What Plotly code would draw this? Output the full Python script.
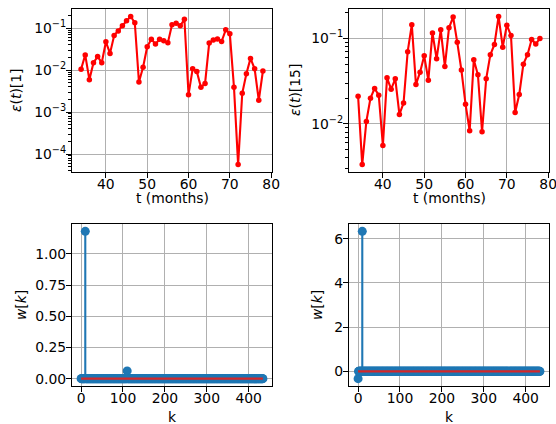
import plotly.graph_objects as go
import math

# ---------------- data ----------------
t_months = list(range(34, 79))
eps_1 = [0.0105, 0.023, 0.0059, 0.015, 0.021, 0.015, 0.047, 0.025, 0.067, 0.085,
         0.114, 0.149, 0.19, 0.134, 0.0052, 0.0117, 0.036, 0.054, 0.042, 0.054,
         0.050, 0.045, 0.12, 0.13, 0.114, 0.163, 0.0026, 0.0107, 0.0093, 0.0039,
         0.0048, 0.044, 0.052, 0.055, 0.048, 0.091, 0.073, 0.0039, 0.000056, 0.0028,
         0.0082, 0.019, 0.0107, 0.0019, 0.0095]
eps_15 = [0.0211, 0.00334, 0.0107, 0.020, 0.026, 0.0217, 0.0056, 0.0346, 0.0255, 0.0337,
          0.0129, 0.0175, 0.070, 0.145, 0.0289, 0.0403, 0.0626, 0.0325, 0.116, 0.0578,
          0.126, 0.047, 0.133, 0.178, 0.090, 0.0426, 0.017, 0.0083, 0.0562, 0.0375,
          0.0081, 0.0337, 0.0644, 0.085, 0.181, 0.079, 0.143, 0.108, 0.0136, 0.0221,
          0.050, 0.0644, 0.097, 0.086, 0.100]

n_weights = 435                     # k = 0 .. 434, all other weights ~0
w1_nonzero_k = [10, 110]
w1_nonzero_val = [1.18, 0.062]
w15_nonzero_k = [0, 10]
w15_nonzero_val = [-0.33, 6.33]

log_ticks_1 = [1e-4, 1e-3, 1e-2, 1e-1]
log_ticktext_1 = ["10<sup>−4</sup>", "10<sup>−3</sup>", "10<sup>−2</sup>", "10<sup>−1</sup>"]
log_ticks_15 = [1e-2, 1e-1]
log_ticktext_15 = ["10<sup>−2</sup>", "10<sup>−1</sup>"]

# ---------------- helpers ----------------
FONT = "DejaVu Sans"
FS = 13.9
RED = "#ff0000"
BLUE = "#1f77b4"
BASE = "#d62728"
GRID = "#b0b0b0"

def build_w(nz_k, nz_v):
    w = [0.0] * n_weights
    for kk, vv in zip(nz_k, nz_v):
        w[kk] = vv
    return w

w_1 = build_w(w1_nonzero_k, w1_nonzero_val)
w_15 = build_w(w15_nonzero_k, w15_nonzero_val)
k_idx = list(range(n_weights))

def lin_range(vals, m=0.05):
    lo, hi = min(vals), max(vals)
    d = hi - lo
    return [lo - m * d, hi + m * d]

def log_range(vals, m=0.05):
    lo, hi = math.log10(min(vals)), math.log10(max(vals))
    d = hi - lo
    return [lo - m * d, hi + m * d]

def minor_vals(rng):
    out = []
    for e in range(math.floor(rng[0]) - 1, math.ceil(rng[1]) + 1):
        for m in range(2, 10):
            out.append(m * 10 ** e)
    return out

fig = go.Figure()

W, H = 556, 424
doms = {
    "TL": ([72 / W, 272 / W], [1 - 172 / H, 1 - 9 / H]),
    "TR": ([349 / W, 549 / W], [1 - 172 / H, 1 - 9 / H]),
    "BL": ([72 / W, 272 / W], [1 - 386 / H, 1 - 224 / H]),
    "BR": ([349 / W, 549 / W], [1 - 386 / H, 1 - 224 / H]),
}
axes_ids = {"TL": ("x", "y"), "TR": ("x2", "y2"), "BL": ("x3", "y3"), "BR": ("x4", "y4")}

common_axis = dict(
    showline=True, linecolor="black", linewidth=1.1, mirror=True,
    ticks="outside", ticklen=5, tickwidth=1.1, tickcolor="black",
    showgrid=True, gridcolor=GRID, gridwidth=1.1, zeroline=False,
    automargin=False, ticklabeloverflow="allow",
    tickfont=dict(family=FONT, size=FS, color="black"),
)
x_std = dict(common_axis, ticklabelstandoff=-6)
y_std = dict(common_axis, ticklabelstandoff=-3)

# ---- top plots: error curves ----
for key, series, ticks, ticktext in (("TL", eps_1, log_ticks_1, log_ticktext_1),
                                     ("TR", eps_15, log_ticks_15, log_ticktext_15)):
    xa, ya = axes_ids[key]
    fig.add_trace(go.Scatter(
        x=t_months, y=series, mode="lines+markers", xaxis=xa, yaxis=ya,
        line=dict(color=RED, width=2.1), marker=dict(color=RED, size=5.5),
        showlegend=False, hoverinfo="x+y"))
    yr = log_range(series)
    fig.update_layout(**{
        ("xaxis" if xa == "x" else "xaxis" + xa[1:]): dict(
            x_std, domain=doms[key][0], anchor=ya, range=lin_range(t_months),
            tickmode="array", tickvals=[40, 50, 60, 70, 80]),
        ("yaxis" if ya == "y" else "yaxis" + ya[1:]): dict(
            y_std, domain=doms[key][1], anchor=xa, type="log", range=yr,
            tickmode="array", tickvals=ticks, ticktext=ticktext,
            minor=dict(ticks="outside", ticklen=3, tickwidth=0.8, tickcolor="black",
                       tickmode="array", tickvals=minor_vals(yr), showgrid=False)),
    })

# ---- bottom plots: stems ----
for key, w, yticks, yfmt in (("BL", w_1, [0, 0.25, 0.5, 0.75, 1.0], ".2f"),
                             ("BR", w_15, [0, 2, 4, 6], "d")):
    xa, ya = axes_ids[key]
    sx, sy = [], []
    for kk, vv in zip(k_idx, w):
        sx += [kk, kk, None]
        sy += [0, vv, None]
    fig.add_trace(go.Scatter(x=sx, y=sy, mode="lines", xaxis=xa, yaxis=ya,
                             line=dict(color=BLUE, width=2.1), showlegend=False,
                             hoverinfo="skip"))
    fig.add_trace(go.Scatter(x=k_idx, y=w, mode="markers", xaxis=xa, yaxis=ya,
                             marker=dict(color=BLUE, size=9), showlegend=False))
    fig.add_trace(go.Scatter(x=[k_idx[0], k_idx[-1]], y=[0, 0], mode="lines",
                             xaxis=xa, yaxis=ya, line=dict(color=BASE, width=2.1),
                             showlegend=False, hoverinfo="skip"))
    fig.update_layout(**{
        "xaxis" + xa[1:]: dict(
            x_std, domain=doms[key][0], anchor=ya, range=lin_range(k_idx),
            tickmode="array", tickvals=[0, 100, 200, 300, 400]),
        "yaxis" + ya[1:]: dict(
            y_std, domain=doms[key][1], anchor=xa, range=lin_range(w + [0]),
            tickmode="array", tickvals=yticks, tickformat=yfmt),
    })

# ---- axis titles as annotations ----
def ann(text, x, y, angle=0):
    fig.add_annotation(text=text, x=x / W, y=1 - y / H, xref="paper", yref="paper",
                       showarrow=False, textangle=angle, xanchor="center", yanchor="middle",
                       font=dict(family=FONT, size=FS, color="black"))

ann("t (months)", 172, 198)
ann("t (months)", 449, 198)
ann("k", 172, 417)
ann("k", 449, 417)
ann("<i>ε</i>(<i>t</i>)[1]", 16, 90, -90)
ann("<i>ε</i>(<i>t</i>)[15]", 295, 90, -90)
ann("<i>w</i>[<i>k</i>]", 21, 305, -90)
ann("<i>w</i>[<i>k</i>]", 317, 305, -90)

fig.update_layout(
    width=W, height=H, margin=dict(l=0, r=0, t=0, b=0),
    paper_bgcolor="white", plot_bgcolor="white", showlegend=False,
    font=dict(family=FONT, size=FS, color="black"),
)

fig.write_html("out.html", config={"displayModeBar": False},
               post_script="document.body.style.margin='0';document.body.style.padding='0';")
